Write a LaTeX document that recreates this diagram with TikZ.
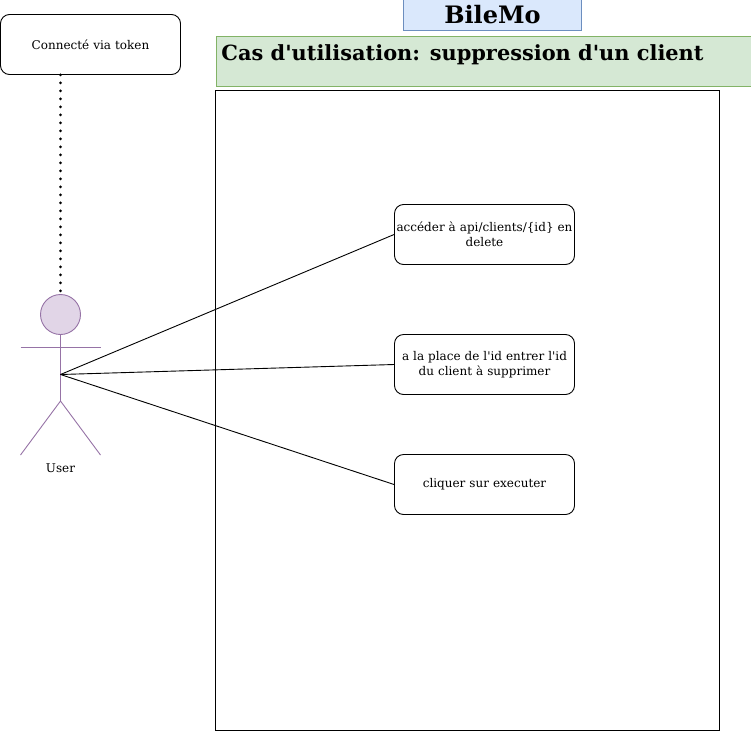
\documentclass[tikz,border=0pt]{standalone}
\usepackage{fontspec}
\setmainfont{DejaVu Serif}[Ligatures=TeXOff]
\usepackage{tikz}
\definecolor{bluefill}{HTML}{DAE8FC}
\definecolor{blueline}{HTML}{6C8EBF}
\definecolor{greenfill}{HTML}{D5E8D4}
\definecolor{greenline}{HTML}{82B366}
\definecolor{purplefill}{HTML}{E1D5E7}
\definecolor{purpleline}{HTML}{9673A6}
\tikzset{x=1pt,y=-1pt,
  every node/.style={line width=0.9pt},
  casebox/.style={draw,rounded corners=9pt,minimum width=180pt,minimum height=60pt,align=center,text width=178pt,inner sep=0pt,font=\fontsize{12}{15}\selectfont},
  actorline/.style={purpleline,line width=0.9pt},
  linkline/.style={line width=0.9pt}}

\begin{document}
\begin{tikzpicture}
\useasboundingbox (0,0) rectangle (751,731);

\node[draw=blueline,fill=bluefill,minimum width=178pt,minimum height=31pt,inner sep=0pt,font=\fontsize{24}{28}\selectfont\bfseries] (title) at (492.5,15) {BileMo};
\node[draw=greenline,fill=greenfill,minimum width=535pt,minimum height=50pt] (heading) at (483.5,61.5) {};
\node[anchor=west,inner sep=0pt,font=\fontsize{20.9}{24}\selectfont\bfseries] (headingtext) at (221,54.5) {Cas d'utilisation: suppression d'un client};
\node[draw,minimum width=504pt,minimum height=640pt] (system) at (467.5,410.5) {};

\node[casebox] (token) at (90.5,44.5) {Connecté via token};
\node[casebox] (access) at (484.5,234.5) {accéder à api/clients/\{id\} en\\delete};
\node[casebox] (replace) at (484.5,364.5) {a la place de l'id entrer l'id\\du client à supprimer};
\node[casebox] (click) at (484.5,484.5) {cliquer sur executer};

% actor
\node[draw=purpleline,fill=purplefill,circle,minimum size=40pt,inner sep=0pt] (head) at (60.5,314.5) {};
\coordinate (center) at (60.5,374.5);
\coordinate (hip) at (60.5,401);
\coordinate (armL) at (20.5,347.5);
\coordinate (armR) at (100.5,347.5);
\coordinate (footL) at (20.5,455);
\coordinate (footR) at (100.5,455);
\draw[actorline] (head.south) -- (hip);
\draw[actorline] (armL) -- (armR);
\draw[actorline] (footL) -- (hip) -- (footR);
\node[font=\fontsize{12}{15}\selectfont] (user) at (60.5,468) {User};

\draw[line width=3pt,line cap=round,dash pattern=on 0pt off 8pt] (token.south -| head) -- (head.north);
\draw[linkline] (center) -- (access.west);
\draw[linkline] (center) -- (replace.west);
\draw[linkline] (center) -- (click.west);
\end{tikzpicture}
\end{document}
